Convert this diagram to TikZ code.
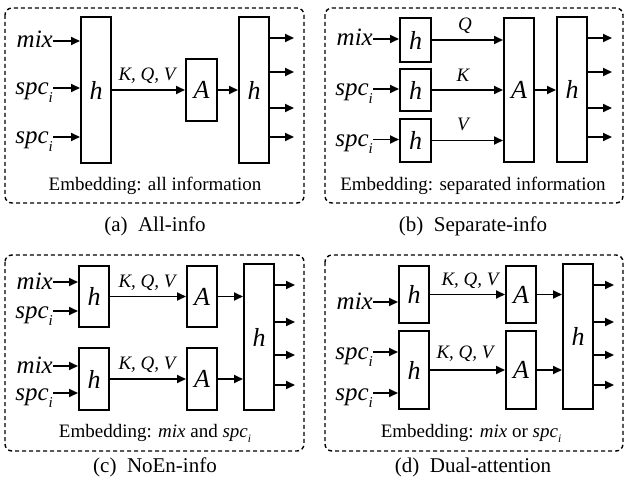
\documentclass[tikz,border=0pt]{standalone}
\usepackage{fontspec}
\setmainfont{Liberation Serif}
\usetikzlibrary{arrows.meta}
\newcommand{\mybox}[6]{\node[blk,anchor=north west,minimum width={#4-#2},minimum height={#5-#3}] (#1) at (#2,#3) {#6};}
\newcommand{\spcl}{spc\raisebox{-0.3em}{\fontsize{0.6em}{0.65em}\selectfont i}}
\tikzset{
  blk/.style={draw,line width=2pt,inner sep=0pt,font=\fontsize{26}{30}\selectfont\itshape},
  arr/.style={line width=1.8pt,-{Triangle[length=9pt,width=8pt]}},
  lbl/.style={inner sep=0pt,anchor=east,text height=14pt,text depth=0pt,font=\fontsize{25}{29}\selectfont\itshape},
  kqv/.style={inner sep=0pt,anchor=base,font=\fontsize{19}{22}\selectfont\itshape},
  emb/.style={inner sep=0pt,anchor=base,font=\fontsize{19}{22}\selectfont},
  captxt/.style={inner sep=0pt,anchor=base,font=\fontsize{21}{25}\selectfont},
  frame/.style={draw,dash pattern=on 4pt off 3pt,line width=1.4pt,rounded corners=7pt}
}
\begin{document}
\begin{tikzpicture}[x=1pt,y=-1pt]
\useasboundingbox (0,0) rectangle (631,494);
% ---------- (a) ----------
\draw[frame] (5,8) rectangle (304,203);
\mybox{ah1}{80}{16}{110}{162}{h}
\mybox{aA}{185}{58}{216}{120}{A}
\mybox{ah2}{238}{16}{268}{162}{h}
\node[lbl] (amix) at (53,41) {mix};
\node[lbl] (aspc1) at (53,88) {\spcl};
\node[lbl] (aspc2) at (53,137) {\spcl};
\draw[arr] (amix.east) -- (amix.east -| ah1.west);
\draw[arr] (aspc1.east) -- (aspc1.east -| ah1.west);
\draw[arr] (aspc2.east) -- (aspc2.east -| ah1.west);
\draw[arr] (ah1.east) -- (ah1.east -| aA.west);
\node[kqv] (akqv) at (147,81) {K, Q, V};
\draw[arr] (aA.east) -- (aA.east -| ah2.west);
\foreach \yy in {38,72,108,137} \draw[arr] (ah2.east |- 0,\yy) -- ++(24,0);
\node[emb] (aemb) at (155,191) {Embedding: all information};
\node[captxt] (acap) at (155,232) {(a)\ \ All-info};
% ---------- (b) ----------
\draw[frame] (325,8) rectangle (623,203);
\mybox{bh1}{399}{17}{430}{61}{h}
\mybox{bh2}{399}{68}{430}{110}{h}
\mybox{bh3}{399}{118}{430}{161}{h}
\mybox{bA}{503}{17}{533}{161}{A}
\mybox{bh4}{556}{16}{586}{161}{h}
\node[lbl] (bmix) at (373,39) {mix};
\node[lbl] (bspc1) at (373,89) {\spcl};
\node[lbl] (bspc2) at (373,139.5) {\spcl};
\draw[arr] (bmix.east) -- (bmix.east -| bh1.west);
\draw[arr] (bspc1.east) -- (bspc1.east -| bh2.west);
\draw[arr] (bspc2.east) -- (bspc2.east -| bh3.west);
\draw[arr] (bh1.east) -- (bh1.east -| bA.west);
\draw[arr] (bh2.east) -- (bh2.east -| bA.west);
\draw[arr] (bh3.east) -- (bh3.east -| bA.west);
\node[kqv] (bq) at (465,31) {Q};
\node[kqv] (bk) at (463,82) {K};
\node[kqv] (bv) at (463,131) {V};
\draw[arr] (bA.east) -- (bA.east -| bh4.west);
\foreach \yy in {38,72,108,137} \draw[arr] (bh4.east |- 0,\yy) -- ++(24,0);
\node[emb] (bemb) at (473,191) {Embedding: separated information};
\node[captxt] (bcap) at (473,232) {(b)\ \ Separate-info};
% ---------- (c) ----------
\draw[frame] (5,255) rectangle (304,451);
\mybox{ch1}{78}{265}{108}{326}{h}
\mybox{ch2}{78}{347}{108}{409}{h}
\mybox{cA1}{186}{265}{216}{326}{A}
\mybox{cA2}{186}{347}{216}{409}{A}
\mybox{ch3}{243}{263}{273}{409}{h}
\node[lbl] (cmix1) at (53,282) {mix};
\node[lbl] (cspc1) at (53,311) {\spcl};
\node[lbl] (cmix2) at (53,366) {mix};
\node[lbl] (cspc2) at (53,393) {\spcl};
\draw[arr] (cmix1.east) -- (cmix1.east -| ch1.west);
\draw[arr] (cspc1.east) -- (cspc1.east -| ch1.west);
\draw[arr] (cmix2.east) -- (cmix2.east -| ch2.west);
\draw[arr] (cspc2.east) -- (cspc2.east -| ch2.west);
\draw[arr] (ch1.east) -- (ch1.east -| cA1.west);
\draw[arr] (ch2.east) -- (ch2.east -| cA2.west);
\node[kqv] (ckqv1) at (147,287) {K, Q, V};
\node[kqv] (ckqv2) at (147,369) {K, Q, V};
\draw[arr] (cA1.east) -- (cA1.east -| ch3.west);
\draw[arr] (cA2.east) -- (cA2.east -| ch3.west);
\foreach \yy in {285,322,355,385} \draw[arr] (ch3.east |- 0,\yy) -- ++(20,0);
\node[emb] (cemb) at (155,437) {Embedding: \textit{mix} and \textit{\spcl}};
\node[captxt] (ccap) at (155,472) {(c)\ \ NoEn-info};
% ---------- (d) ----------
\draw[frame] (325,255) rectangle (623,451);
\mybox{dh1}{398}{265}{428}{322}{h}
\mybox{dh2}{398}{330}{428}{408}{h}
\mybox{dA1}{505}{265}{535}{322}{A}
\mybox{dA2}{505}{330}{535}{408}{A}
\mybox{dh3}{562}{263}{592}{408}{h}
\node[lbl] (dmix) at (373,302) {mix};
\node[lbl] (dspc1) at (373,352) {\spcl};
\node[lbl] (dspc2) at (373,393) {\spcl};
\draw[arr] (dmix.east) -- (dmix.east -| dh1.west);
\draw[arr] (dspc1.east) -- (dspc1.east -| dh2.west);
\draw[arr] (dspc2.east) -- (dspc2.east -| dh2.west);
\draw[arr] (dh1.east) -- (dh1.east -| dA1.west);
\draw[arr] (dh2.east) -- (dh2.east -| dA2.west);
\node[kqv] (dkqv1) at (470,285) {K, Q, V};
\node[kqv] (dkqv2) at (465,358) {K, Q, V};
\draw[arr] (dA1.east) -- (dA1.east -| dh3.west);
\draw[arr] (dA2.east) -- (dA2.east -| dh3.west);
\foreach \yy in {285,322,355,385} \draw[arr] (dh3.east |- 0,\yy) -- ++(20,0);
\node[emb] (demb) at (471,437) {Embedding: \textit{mix} or \textit{\spcl}};
\node[captxt] (dcap) at (473,472) {(d)\ \ Dual-attention};
\end{tikzpicture}
\end{document}
